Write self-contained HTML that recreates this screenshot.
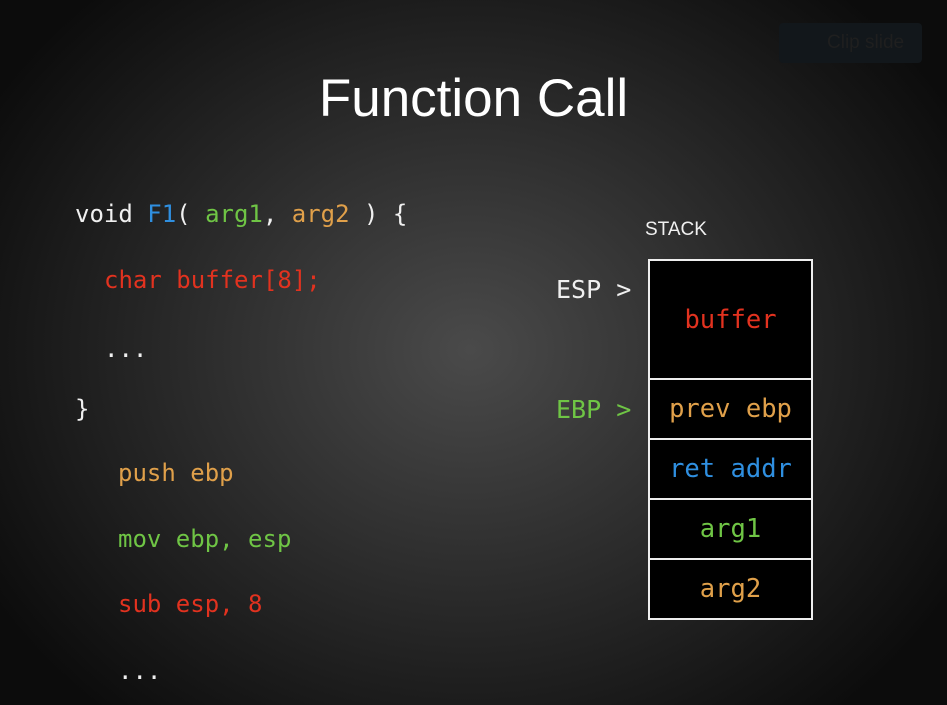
<!DOCTYPE html>
<html><head><style>
html,body{margin:0;padding:0;}
body{width:947px;height:705px;overflow:hidden;position:relative;
background:radial-gradient(ellipse 560px 480px at 470px 350px,#4a4a4a 0%,#2e2e2e 45%,#151515 85%,#0c0c0c 100%);
font-family:"DejaVu Sans Mono","Liberation Mono",monospace;}
.t{position:absolute;white-space:pre;font-size:24px;line-height:30px;}
.w{color:#f0f0f0}.r{color:#e2321f}.o{color:#e0a04a}.g{color:#6fc545}.b{color:#2f8fe0}
h1{position:absolute;left:0;width:947px;top:68px;margin:0;text-align:center;color:#fff;font:400 53px "Liberation Sans",sans-serif;}
.stack{position:absolute;left:648px;top:259px;width:161px;border:2px solid #eee;background:#000;}
.cell{border-top:2px solid #eee;height:58px;display:flex;align-items:center;justify-content:center;font-size:25.5px;}
.clip{position:absolute;left:779px;top:23px;width:143px;height:40px;background:#12171b;border-radius:4px;color:#1f1f1f;font:19px "Liberation Sans",sans-serif;line-height:40px;padding-left:48px;box-sizing:border-box;}
</style></head><body>
<div class="clip">Clip slide</div>
<h1>Function Call</h1>
<div class="t w" style="left:75px;top:199px">void <span class="b">F1</span>( <span class="g">arg1</span>, <span class="o">arg2</span> ) {</div>
<div class="t r" style="left:104px;top:265px">char buffer[8];</div>
<div class="t w" style="left:104px;top:334px">...</div>
<div class="t w" style="left:75px;top:394px">}</div>
<div class="t o" style="left:118px;top:458px">push ebp</div>
<div class="t g" style="left:118px;top:524px">mov ebp, esp</div>
<div class="t r" style="left:118px;top:589px">sub esp, 8</div>
<div class="t w" style="left:118px;top:656px">...</div>
<div class="t w" style="left:645px;top:215px;font-size:19px;font-family:'Liberation Sans',sans-serif">STACK</div>
<div class="t w" style="left:556px;top:275px;font-size:25px">ESP &gt;</div>
<div class="t g" style="left:556px;top:395px;font-size:25px">EBP &gt;</div>
<div class="stack">
<div class="cell r" style="border-top:none;height:117px">buffer</div>
<div class="cell o">prev ebp</div>
<div class="cell b">ret addr</div>
<div class="cell g">arg1</div>
<div class="cell o">arg2</div>
</div>
</body></html>
